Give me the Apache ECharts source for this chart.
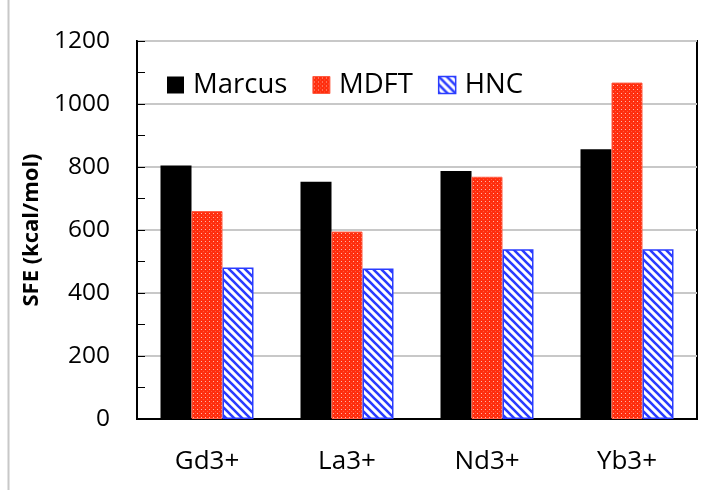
<!DOCTYPE html>
<html>
<head>
<meta charset="utf-8">
<script src="https://cdn.jsdelivr.net/npm/echarts@6/dist/echarts.min.js"></script>
<style>
  html, body { margin: 0; padding: 0; background: #fff; }
  #chart { width: 717px; height: 490px; }
</style>
</head>
<body>
<div id="chart"></div>
<script>
// Solvation free energies of lanthanide ions (kcal/mol)
const ions = ['Gd3+', 'La3+', 'Nd3+', 'Yb3+'];
const marcus = [805, 753, 787, 856];
const mdft = [660, 595, 769, 1068];
const hnc = [481, 478, 539, 539];
const yTicks = [0, 200, 400, 600, 800, 1000, 1200];

const FONT = '"Open Sans", Lato, sans-serif';

// red fill with a fine white dot texture
function dotPattern() {
  const c = document.createElement('canvas');
  c.width = 4; c.height = 4;
  const g = c.getContext('2d');
  g.fillStyle = '#ff2e0e';
  g.fillRect(0, 0, 4, 4);
  g.fillStyle = 'rgba(255,200,190,0.9)';
  g.fillRect(1, 1, 1, 1);
  g.fillStyle = 'rgba(255,120,100,0.6)';
  g.fillRect(3, 3, 1, 1);
  return c;
}

// blue downward diagonal hatch on white
function hatchPattern() {
  const s = 8;
  const c = document.createElement('canvas');
  c.width = s; c.height = s;
  const g = c.getContext('2d');
  g.fillStyle = '#ffffff';
  g.fillRect(0, 0, s, s);
  g.strokeStyle = '#2a3cff';
  g.lineWidth = 2.6;
  g.beginPath();
  for (let k = -1; k <= 1; k++) {
    g.moveTo(k * s - 1, -1);
    g.lineTo(k * s + s + 1, s + 1);
  }
  g.stroke();
  return c;
}

const redFill = { image: dotPattern(), repeat: 'repeat' };
const blueFill = { image: hatchPattern(), repeat: 'repeat' };

const chart = echarts.init(document.getElementById('chart'), null, { renderer: 'canvas' });

chart.setOption({
  animation: false,
  backgroundColor: '#ffffff',
  grid: {
    left: 137, right: 20, top: 41, bottom: 71,
    show: true, borderColor: '#000', borderWidth: 2, backgroundColor: 'transparent'
  },
  legend: {
    top: 66, left: 162,
    icon: 'rect',
    itemWidth: 17, itemHeight: 17, itemGap: 25,
    textStyle: { fontFamily: FONT, fontSize: 27.5, color: '#000', padding: [0, 0, 0, 4] },
    data: [
      { name: 'Marcus', itemStyle: { color: '#000', borderWidth: 0 } },
      { name: 'MDFT', itemStyle: { color: redFill, borderColor: '#ff5a40', borderWidth: 1 } },
      { name: 'HNC', itemStyle: { color: blueFill, borderColor: '#2a3cff', borderWidth: 1.5 } }
    ]
  },
  xAxis: {
    type: 'category',
    data: ions,
    axisLine: { show: true, lineStyle: { color: '#000', width: 2 } },
    axisTick: { show: false },
    axisLabel: { fontFamily: FONT, fontSize: 26, color: '#000', margin: 30 }
  },
  yAxis: {
    type: 'value',
    min: yTicks[0], max: yTicks[yTicks.length - 1], interval: 200,
    name: 'SFE (kcal/mol)',
    nameLocation: 'middle', nameGap: 89, nameRotate: 90,
    nameTextStyle: { fontFamily: FONT, fontSize: 22, fontWeight: 'bold', color: '#000' },
    axisLine: { show: true, lineStyle: { color: '#000', width: 2 } },
    axisTick: { show: true, inside: true, length: 8, lineStyle: { color: '#000', width: 1 } },
    minorTick: { show: true, splitNumber: 2, length: 8, lineStyle: { color: '#000', width: 1 } },
    axisLabel: {
      fontFamily: FONT, fontSize: 24.5, color: '#000', margin: 27,
      formatter: v => String(v)
    },
    splitLine: { show: true, lineStyle: { color: '#c8c8c8', width: 2 } }
  },
  series: [
    {
      name: 'Marcus', type: 'bar', data: marcus, barWidth: 31, barGap: '0%',
      itemStyle: { color: '#000' }
    },
    {
      name: 'MDFT', type: 'bar', data: mdft, barWidth: 31, barGap: '0%',
      itemStyle: { color: redFill, borderColor: '#ff5a40', borderWidth: 1 }
    },
    {
      name: 'HNC', type: 'bar', data: hnc, barWidth: 31, barGap: '0%',
      itemStyle: { color: blueFill, borderColor: '#2a3cff', borderWidth: 1.5 }
    }
  ],
  graphic: [
    {
      type: 'line', silent: true,
      shape: { x1: 8.5, y1: 0, x2: 8.5, y2: 490 },
      style: { stroke: '#c8c8c8', lineWidth: 2 }
    }
  ]
});
</script>
</body>
</html>
